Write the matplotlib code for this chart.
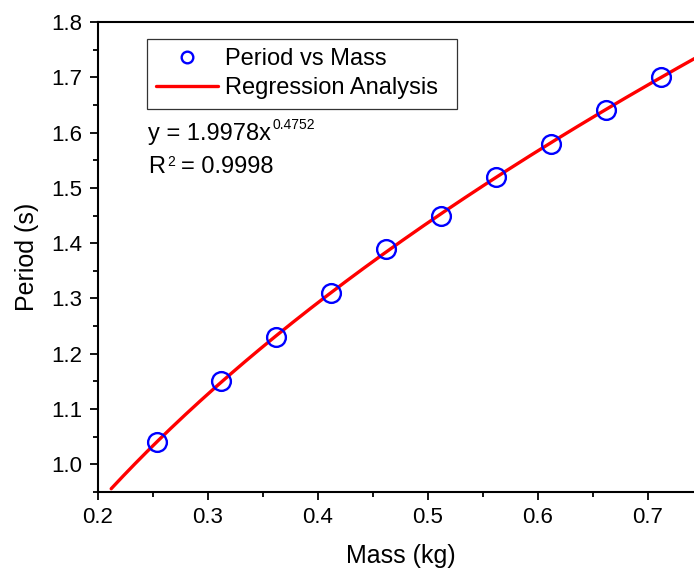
import matplotlib

matplotlib.use("Agg")
import matplotlib.pyplot as plt
import numpy as np
from matplotlib.ticker import MultipleLocator

plt.rcParams["font.family"] = ["Liberation Sans", "DejaVu Sans"]

# measured points
mass = [0.2536, 0.312, 0.362, 0.412, 0.462, 0.512, 0.562, 0.612, 0.662, 0.712]
period = [1.04, 1.15, 1.23, 1.31, 1.39, 1.45, 1.52, 1.58, 1.64, 1.70]

# power-law fit shown on the chart
fit_a = 1.9978
fit_b = 0.4752
fit_r2 = 0.9998
fit_range = (0.212, 0.75)

fig = plt.figure(figsize=(6.94, 5.69), dpi=100)
ax = fig.add_axes([0.1412, 0.1353, 0.8718, 0.826])

xf = np.linspace(*fit_range, 200)
ax.plot(xf, fit_a * xf ** fit_b, color="#ff0000", lw=2.4, solid_capstyle="round",
        label="Regression Analysis", zorder=2)
ax.plot(mass, period, "o", ms=13.5, mfc="none", mec="#0000ff", mew=1.7,
        label="Period vs Mass", zorder=3)

ax.set_xlim(0.2, 0.75)
ax.set_ylim(0.95, 1.8)
ax.xaxis.set_major_locator(MultipleLocator(0.1))
ax.xaxis.set_minor_locator(MultipleLocator(0.05))
ax.yaxis.set_major_locator(MultipleLocator(0.1))
ax.yaxis.set_minor_locator(MultipleLocator(0.05))
ax.xaxis.set_major_formatter(lambda v, p: f"{v:.1f}")
ax.yaxis.set_major_formatter(lambda v, p: f"{v:.1f}")
ax.tick_params(which="both", direction="out", width=1.3, labelsize=16, top=False, right=False)
ax.tick_params(which="major", length=6, pad=5)
ax.tick_params(which="minor", length=3.5)
for s in ax.spines.values():
    s.set_linewidth(1.5)

ax.set_xlabel("Mass (kg)", fontsize=18, labelpad=11)
ax.set_ylabel("Period (s)", fontsize=18, labelpad=9)

# legend box spans a fixed width, like the reference frame
h, l = ax.get_legend_handles_labels()
leg = ax.legend(h[::-1], l[::-1], loc="upper left", bbox_to_anchor=(0.081, 0.5, 0.512, 0.464),
                mode="expand", borderaxespad=0, fontsize=17, frameon=True, fancybox=False,
                edgecolor="black", handlelength=2.6, handletextpad=0.3,
                borderpad=0.4, labelspacing=0.3, markerscale=0.62)
leg.get_frame().set_linewidth(0.9)

eq = ax.text(0.083, 0.748, f"y = {fit_a}x", transform=ax.transAxes, fontsize=17)
ax.annotate(f"{fit_b}", xy=(1, 1), xycoords=eq, xytext=(1, 4), textcoords="offset points",
            fontsize=10, va="top", ha="left")
r2 = ax.text(0.083, 0.678, "R", transform=ax.transAxes, fontsize=17)
sup2 = ax.annotate("2", xy=(1, 1), xycoords=r2, xytext=(1.5, 1), textcoords="offset points",
                   fontsize=10, va="top", ha="left")
ax.annotate(f"= {fit_r2}", xy=(1, 0), xycoords=(sup2, r2), xytext=(4, 0),
            textcoords="offset points", fontsize=17, va="bottom", ha="left")

fig.savefig("out.png", dpi=100)
